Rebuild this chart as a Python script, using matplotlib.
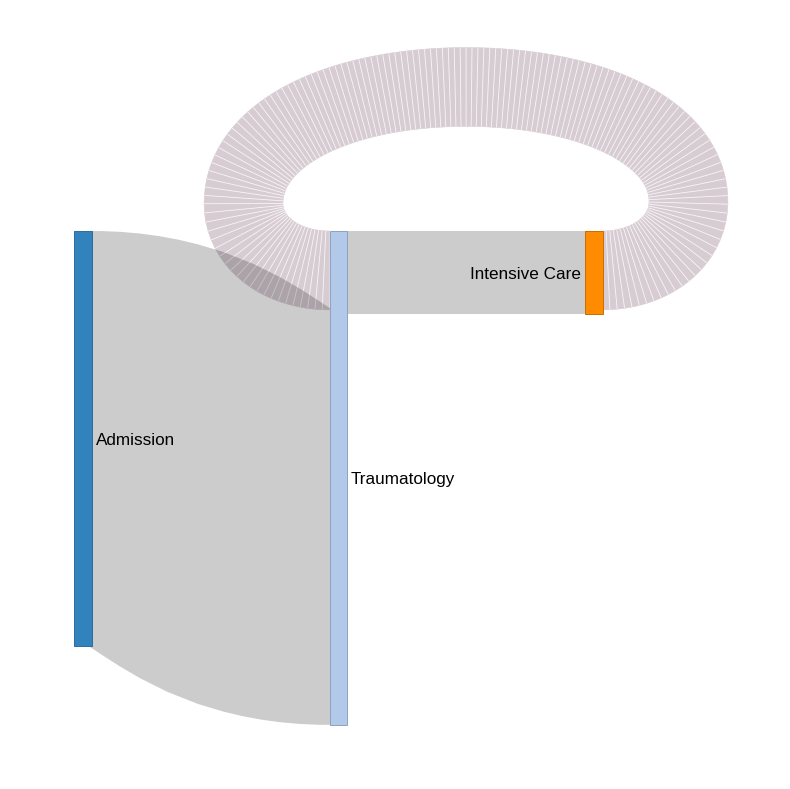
import numpy as np
import matplotlib
matplotlib.use("Agg")
import matplotlib.pyplot as plt
from matplotlib.path import Path
from matplotlib.patches import PathPatch, Rectangle
from matplotlib.collections import PolyCollection, LineCollection

plt.rcParams['font.family'] = ['Liberation Sans', 'DejaVu Sans']

# nodes
node_names = ["Admission", "Traumatology", "Intensive Care"]
node_column = [0, 1, 2]
node_colors = ["#3182bd", "#b3c9ea", "#ff8c00"]
node_edges = ["#2b6d9e", "#8ea2c0", "#c86e00"]

# flows
link_source = ["Admission", "Traumatology", "Intensive Care"]
link_target = ["Traumatology", "Intensive Care", "Traumatology"]
link_value = [5.0, 1.0, 0.95]

# layout in pixels
W, H = 790, 789
x_left, col_step = 74, 255.5
node_w = 17.5
y_top = 231
ky = 83.0           # pixels per unit of flow
loop_color = "#d8ccd3"
font_pt = 12.3

# loop shape (cycle link going back over the top)
loop_reach_out = 86   # how far right of the source it swings
loop_reach_in = 86    # how far left of the target it swings
loop_rise_out = 69
loop_rise_in = 67
loop_top_y = 87
k_side = 0.615        # handle length near the side turns of the top arc
k_low = 0.59          # same for the lower arcs

idx = {n: i for i, n in enumerate(node_names)}
n_in = np.zeros(len(node_names))
n_out = np.zeros(len(node_names))
for s, t, v in zip(link_source, link_target, link_value):
    n_out[idx[s]] += v
    n_in[idx[t]] += v
node_h = np.maximum(n_in, n_out) * ky
node_x = np.array([x_left + c * col_step for c in node_column])
node_y = np.full(len(node_names), float(y_top))
node_cy = node_y + node_h / 2

# port offsets: outgoing sorted by target y, incoming sorted by source y
src_y = {}
tgt_y = {}
for i, n in enumerate(node_names):
    outs = [k for k, s in enumerate(link_source) if s == n]
    outs.sort(key=lambda k: node_cy[idx[link_target[k]]])
    y = node_y[i]
    for k in outs:
        src_y[k] = y + link_value[k] * ky / 2
        y += link_value[k] * ky
    ins = [k for k, t in enumerate(link_target) if t == n]
    ins.sort(key=lambda k: node_cy[idx[link_source[k]]])
    y = node_y[i]
    for k in ins:
        tgt_y[k] = y + link_value[k] * ky / 2
        y += link_value[k] * ky


def cubic(p0, p1, p2, p3, n=400):
    t = np.linspace(0, 1, n)[:, None]
    return ((1 - t) ** 3 * p0 + 3 * (1 - t) ** 2 * t * p1
            + 3 * (1 - t) * t ** 2 * p2 + t ** 3 * p3)


def quarter(p0, d0, p3, d3, k0=0.5523, k3=0.5523):
    p0, p3, d0, d3 = map(np.asarray, (p0, p3, d0, d3))
    d = p3 - p0
    p1 = p0 + k0 * np.dot(d, d0) * d0
    p2 = p3 - k3 * np.dot(d, d3) * d3
    return cubic(p0, p1, p2, p3)


fig = plt.figure(figsize=(W / 100, H / 100), dpi=100)
ax = fig.add_axes([0, 0, 1, 1])
ax.set_xlim(0, W)
ax.set_ylim(H, 0)
ax.axis("off")

for k, (s, t, v) in enumerate(zip(link_source, link_target, link_value)):
    si, ti = idx[s], idx[t]
    sx = node_x[si] + node_w
    tx = node_x[ti]
    sy, ty = src_y[k], tgt_y[k]
    width = v * ky
    if node_column[ti] > node_column[si]:
        xm = (sx + tx) / 2
        path = Path([(sx - 3, sy), (sx, sy), (xm, sy), (xm, ty), (tx, ty),
                     (tx + 3, ty)],
                    [Path.MOVETO, Path.LINETO, Path.CURVE4, Path.CURVE4,
                     Path.CURVE4, Path.LINETO])
        patch = PathPatch(path, facecolor="none", edgecolor="black",
                          alpha=0.2, lw=width * 72 / 100, zorder=2)
        patch.set_capstyle("butt")
        patch.set_joinstyle("round")
        ax.add_patch(patch)
    else:
        S = np.array([sx, sy])
        T = np.array([tx, ty])
        R = np.array([sx + loop_reach_out, sy - loop_rise_out])
        L = np.array([tx - loop_reach_in, ty - loop_rise_in])
        Tp = np.array([(R[0] + L[0]) / 2, loop_top_y])
        parts = [quarter(S, (1, 0), R, (0, -1), k3=k_low),
                 quarter(R, (0, -1), Tp, (-1, 0), k0=k_side),
                 quarter(Tp, (-1, 0), L, (0, 1), k3=k_side),
                 quarter(L, (0, 1), T, (1, 0), k0=k_low)]
        pts = np.vstack([parts[0]] + [p[1:] for p in parts[1:]])
        seg = np.hypot(*np.diff(pts, axis=0).T)
        arc = np.concatenate([[0], np.cumsum(seg)])
        tan = np.gradient(pts, axis=0)
        nseg = int(arc[-1] / 5.5)
        sa = np.linspace(0, arc[-1], nseg + 1)
        px = np.interp(sa, arc, pts[:, 0])
        py = np.interp(sa, arc, pts[:, 1])
        tx_ = np.interp(sa, arc, tan[:, 0])
        ty_ = np.interp(sa, arc, tan[:, 1])
        nrm = np.hypot(tx_, ty_)
        nx, ny = -ty_ / nrm, tx_ / nrm
        hw = width / 2
        a = np.column_stack([px + hw * nx, py + hw * ny])
        b = np.column_stack([px - hw * nx, py - hw * ny])
        polys = [[a[i], a[i + 1], b[i + 1], b[i]] for i in range(nseg)]
        ax.add_collection(PolyCollection(polys, facecolors=loop_color,
                                         edgecolors=loop_color, lw=0.4,
                                         zorder=1))
        seams = [[a[i], b[i]] for i in range(1, nseg)]
        ax.add_collection(LineCollection(seams, colors="white", lw=0.6,
                                         alpha=0.8, zorder=1.5))

dy_base = 0.37 * font_pt * 100 / 72
for i, n in enumerate(node_names):
    ax.add_patch(Rectangle((node_x[i], node_y[i]), node_w, node_h[i],
                           facecolor=node_colors[i], edgecolor=node_edges[i],
                           lw=0.7, zorder=3))
    if node_x[i] < W / 2:
        ax.text(node_x[i] + node_w + 4, node_cy[i] + dy_base, n, ha="left",
                va="baseline", fontsize=font_pt, color="black", zorder=4)
    else:
        ax.text(node_x[i] - 4, node_cy[i] + dy_base, n, ha="right",
                va="baseline", fontsize=font_pt, color="black", zorder=4)

fig.savefig("out.png", dpi=100)
